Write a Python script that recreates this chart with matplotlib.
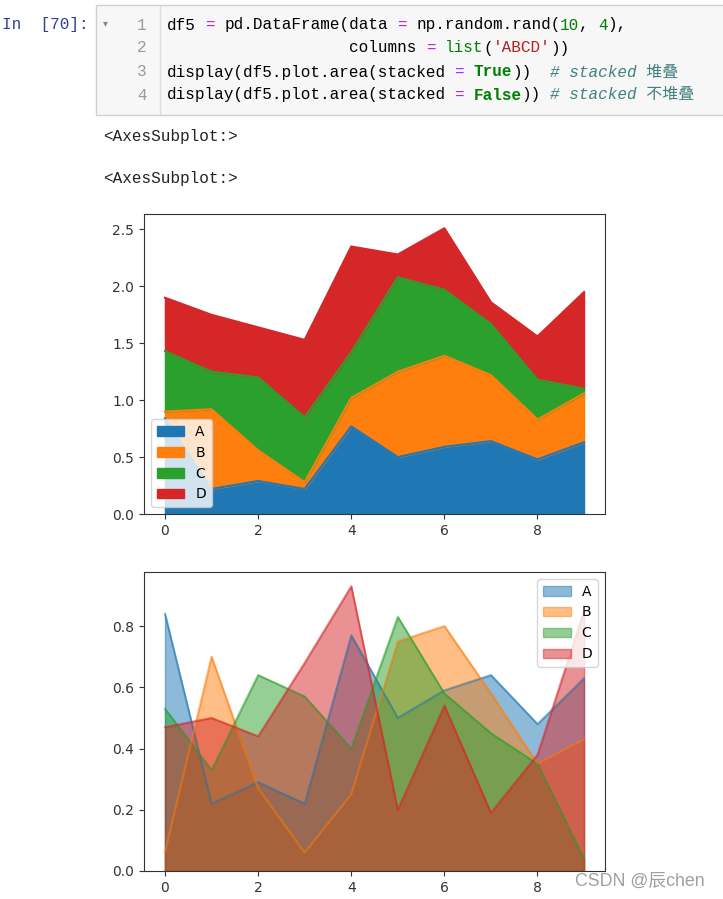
import matplotlib.pyplot as plt
from matplotlib.patches import Rectangle
import numpy as np

# values
x = np.arange(10)
col_a = [0.84, 0.22, 0.29, 0.22, 0.77, 0.50, 0.59, 0.64, 0.48, 0.63]
col_b = [0.06, 0.70, 0.27, 0.06, 0.25, 0.75, 0.80, 0.58, 0.35, 0.43]
col_c = [0.53, 0.33, 0.64, 0.57, 0.40, 0.83, 0.58, 0.45, 0.35, 0.04]
col_d = [0.47, 0.50, 0.44, 0.68, 0.93, 0.20, 0.54, 0.19, 0.38, 0.85]
labels = ['A', 'B', 'C', 'D']
colors = ['#1f77b4', '#ff7f0e', '#2ca02c', '#d62728']

W, H = 723, 899
fig = plt.figure(figsize=(W / 100, H / 100), dpi=100)


def fx(px):
    return px / W


def fy(py):
    return 1 - py / H


# ---- notebook cell ----
mono = ['Liberation Mono', 'Noto Sans CJK SC']
fs_code = 11.5
cw = 0.6 * fs_code * 100 / 72  # px per character

fig.patches.append(Rectangle((fx(96), fy(115)), fx(640), 110 / H, transform=fig.transFigure,
                             facecolor='#f7f7f7', edgecolor='#cfcfcf', lw=1, zorder=0))
fig.add_artist(plt.Line2D([fx(160), fx(160)], [fy(6), fy(114)], color='#dddddd', lw=1))
fig.text(fx(2), fy(25), 'In  [70]:', family=mono, fontsize=fs_code, color='#303f9f', va='center')
fig.text(fx(105), fy(23), '\u25be', fontsize=7, color='#888888', va='center', ha='center')

K, P, G, R = '#000000', '#aa22ff', '#008000', '#ba2121'
code_lines = [
    [('df5 ', K), ('=', P), (' pd.DataFrame(data ', K), ('=', P), (' np.random.rand(', K),
     ('10', G), (', ', K), ('4', G), ('),', K)],
    [(' ' * 19 + 'columns ', K), ('=', P), (' ', K), ('list', G), ('(', K), ("'ABCD'", R), ('))', K)],
    [('display(df5.plot.area(stacked ', K), ('=', P), (' ', K), ('True', 'bold'), ('))  ', K),
     ('# stacked 堆叠', 'comment')],
    [('display(df5.plot.area(stacked ', K), ('=', P), (' ', K), ('False', 'bold'), (')) ', K),
     ('# stacked 不堆叠', 'comment')],
]
line_y = [25, 48, 72, 95]
for i, (tokens, yy) in enumerate(zip(code_lines, line_y)):
    fig.text(fx(142), fy(yy), str(i + 1), family=mono, fontsize=fs_code, color='#999999',
             ha='center', va='center')
    pos = 0
    for txt, style in tokens:
        shown = txt.strip()
        lead = len(txt) - len(txt.lstrip())
        if shown:
            kw = dict(family=mono, fontsize=fs_code, va='center')
            if style == 'bold':
                kw.update(color=G, weight='bold')
            elif style == 'comment':
                kw.update(color='#408080', style='italic')
            else:
                kw.update(color=style)
            fig.text(fx(167 + (pos + lead) * cw), fy(yy), shown, **kw)
        pos += len(txt)

for yy in [137, 178]:
    fig.text(fx(103), fy(yy), '<AxesSubplot:>', family=mono, fontsize=fs_code, color='#222222',
             va='center')

# ---- charts ----
data = [col_a, col_b, col_c, col_d]
ax1 = fig.add_axes([fx(144), fy(514), 461 / W, 300 / H])
ax2 = fig.add_axes([fx(144), fy(871), 461 / W, 299 / H])

# stacked
base = np.zeros(len(x))
for vals, lab, c in zip(data, labels, colors):
    top = base + np.array(vals)
    ax1.plot(x, top, color=c, lw=1.5)
    ax1.fill_between(x, base, top, color=c, label=lab)
    base = top
ax1.set_ylim(bottom=0)
ax1.legend(loc='lower left', fontsize=10)

# not stacked
for vals, lab, c in zip(data, labels, colors):
    ax2.plot(x, vals, color=c, lw=1.5, alpha=0.5)
    ax2.fill_between(x, 0, vals, color=c, alpha=0.5, label=lab)
ax2.set_ylim(bottom=0)
ax2.legend(loc='upper right', fontsize=10)

for ax in (ax1, ax2):
    ax.set_xticks([0, 2, 4, 6, 8])
    ax.tick_params(labelsize=10, colors='#333333')
    for sp in ax.spines.values():
        sp.set_color('#333333')

fig.text(fx(575), fy(881), 'CSDN @辰chen', family=['Liberation Sans', 'Noto Sans CJK SC'],
         fontsize=12.8, color='#a0a0a0', va='center')

fig.savefig('out.png', dpi=100)
